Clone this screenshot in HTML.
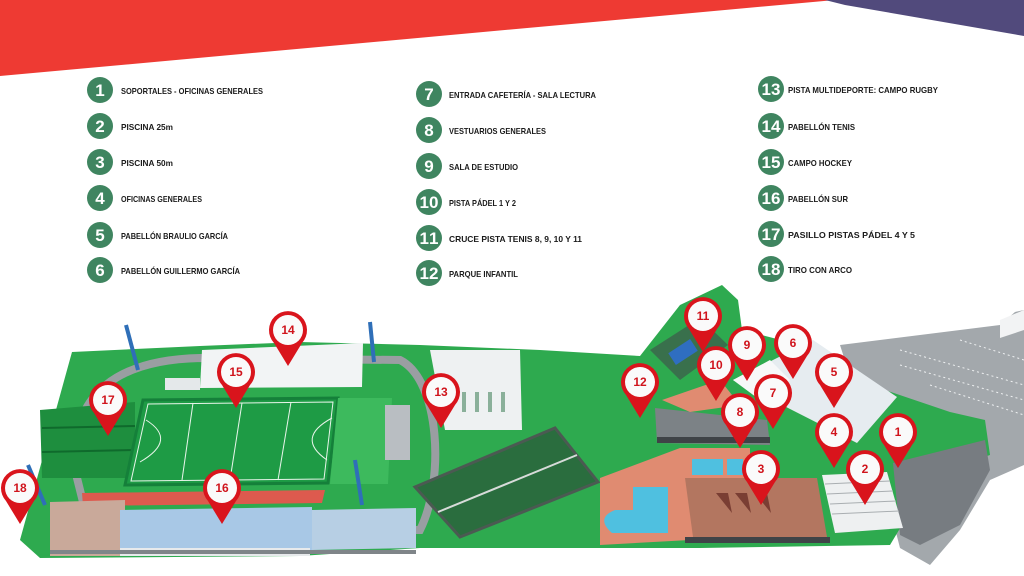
<!DOCTYPE html>
<html><head><meta charset="utf-8"><style>
html,body{margin:0;padding:0;background:#fff;width:1024px;height:576px;overflow:hidden}
svg{display:block}
.lg{font-family:"Liberation Sans",sans-serif;font-weight:bold;font-size:8.5px;fill:#1a1a1a}
.cn{font-family:"Liberation Sans",sans-serif;font-weight:bold;font-size:17px;fill:#fff;text-anchor:middle}
.pn{font-family:"Liberation Sans",sans-serif;font-weight:bold;font-size:12px;fill:#d0141c;text-anchor:middle}
</style></head><body>
<svg width="1024" height="576" viewBox="0 0 1024 576" xmlns="http://www.w3.org/2000/svg">
<defs>
<g id="pin"><path d="M0,36 L-14,13 A19,19 0 1 1 14,13 Z" fill="#d9141c"/><circle r="15" fill="#fafafa"/></g>
</defs>
<polygon points="0,0 835,0 0,76" fill="#ee3a33"/>
<polygon points="825,0 1024,0 1024,36 845,5" fill="#514a7c"/>

<g fill="#3f8560">
<circle cx="100" cy="90" r="13"/><circle cx="100" cy="126" r="13"/><circle cx="100" cy="162" r="13"/><circle cx="100" cy="198" r="13"/><circle cx="100" cy="235" r="13"/><circle cx="100" cy="270" r="13"/>
<circle cx="429" cy="94" r="13"/><circle cx="429" cy="130" r="13"/><circle cx="429" cy="166" r="13"/><circle cx="429" cy="202" r="13"/><circle cx="429" cy="238" r="13"/><circle cx="429" cy="273" r="13"/>
<circle cx="771" cy="89" r="13"/><circle cx="771" cy="126" r="13"/><circle cx="771" cy="162" r="13"/><circle cx="771" cy="198" r="13"/><circle cx="771" cy="234" r="13"/><circle cx="771" cy="269" r="13"/>
</g>
<g class="cn">
<text x="100" y="96">1</text><text x="100" y="132">2</text><text x="100" y="168">3</text><text x="100" y="204">4</text><text x="100" y="241">5</text><text x="100" y="276">6</text>
<text x="429" y="100">7</text><text x="429" y="136">8</text><text x="429" y="172">9</text><text x="429" y="208" textLength="19">10</text><text x="429" y="244" textLength="19">11</text><text x="429" y="279" textLength="19">12</text>
<text x="771" y="95" textLength="19">13</text><text x="771" y="132" textLength="19">14</text><text x="771" y="168" textLength="19">15</text><text x="771" y="204" textLength="19">16</text><text x="771" y="240" textLength="19">17</text><text x="771" y="275" textLength="19">18</text>
</g>
<g class="lg">
<text x="121" y="94" textLength="142" lengthAdjust="spacingAndGlyphs">SOPORTALES - OFICINAS GENERALES</text>
<text x="121" y="130" textLength="52" lengthAdjust="spacingAndGlyphs">PISCINA 25m</text>
<text x="121" y="166" textLength="52" lengthAdjust="spacingAndGlyphs">PISCINA 50m</text>
<text x="121" y="202" textLength="81" lengthAdjust="spacingAndGlyphs">OFICINAS GENERALES</text>
<text x="121" y="239" textLength="107" lengthAdjust="spacingAndGlyphs">PABELLÓN BRAULIO GARCÍA</text>
<text x="121" y="274" textLength="119" lengthAdjust="spacingAndGlyphs">PABELLÓN GUILLERMO GARCÍA</text>
<text x="449" y="98" textLength="147" lengthAdjust="spacingAndGlyphs">ENTRADA CAFETERÍA - SALA LECTURA</text>
<text x="449" y="134" textLength="97" lengthAdjust="spacingAndGlyphs">VESTUARIOS GENERALES</text>
<text x="449" y="170" textLength="69" lengthAdjust="spacingAndGlyphs">SALA DE ESTUDIO</text>
<text x="449" y="206" textLength="67" lengthAdjust="spacingAndGlyphs">PISTA PÁDEL 1 Y 2</text>
<text x="449" y="242" textLength="133" lengthAdjust="spacingAndGlyphs">CRUCE PISTA TENIS 8, 9, 10 Y 11</text>
<text x="449" y="277" textLength="69" lengthAdjust="spacingAndGlyphs">PARQUE INFANTIL</text>
<text x="788" y="93" textLength="150" lengthAdjust="spacingAndGlyphs">PISTA MULTIDEPORTE: CAMPO RUGBY</text>
<text x="788" y="130" textLength="67" lengthAdjust="spacingAndGlyphs">PABELLÓN TENIS</text>
<text x="788" y="166" textLength="64" lengthAdjust="spacingAndGlyphs">CAMPO HOCKEY</text>
<text x="788" y="202" textLength="60" lengthAdjust="spacingAndGlyphs">PABELLÓN SUR</text>
<text x="788" y="238" textLength="127" lengthAdjust="spacingAndGlyphs">PASILLO PISTAS PÁDEL 4 Y 5</text>
<text x="788" y="273" textLength="64" lengthAdjust="spacingAndGlyphs">TIRO CON ARCO</text>
</g>

<!-- parking -->
<polygon points="840,345 1000,325 1015,312 1024,310 1024,465 990,480 960,530 930,565 900,548 880,470" fill="#a3a8ac"/>
<g stroke="#eef0f1" stroke-width="1" stroke-dasharray="2 3">
<line x1="900" y1="350" x2="1024" y2="385"/><line x1="900" y1="365" x2="1024" y2="400"/><line x1="930" y1="385" x2="1024" y2="415"/><line x1="960" y1="340" x2="1024" y2="360"/>
</g>
<polygon points="1000,320 1024,310 1024,330 1000,338" fill="#f2f3f4"/>
<!-- ground -->
<polygon points="20,540 72,352 200,346 300,342 420,345 540,350 640,356 680,305 722,285 738,300 742,330 800,345 870,385 950,412 985,420 990,455 945,470 905,520 890,545 700,548 420,548 300,556 40,558" fill="#2eaa4f"/>
<polygon points="893,463 985,440 990,470 960,525 920,545 900,535" fill="#777c81"/>
<path d="M75,470 C70,400 110,360 200,358 L400,360 C440,380 445,480 420,530 L90,530 Z" fill="none" stroke="#9a9ea2" stroke-width="8"/>
<polygon points="40,410 135,402 135,478 42,478" fill="#1e8e3e"/>
<line x1="42" y1="428" x2="135" y2="426" stroke="#0f6a2c" stroke-width="2"/><line x1="42" y1="452" x2="135" y2="450" stroke="#0f6a2c" stroke-width="2"/>
<polygon points="143,400 338,398 328,483 125,485" fill="#1e9b45" stroke="#15803a" stroke-width="3"/>
<g stroke="#e8f5ea" stroke-width="1" fill="none">
<polygon points="148,404 333,402 324,479 131,481"/><line x1="193" y1="403" x2="182" y2="480"/><line x1="242" y1="403" x2="230" y2="480"/><line x1="291" y1="402" x2="278" y2="480"/>
<path d="M146,420 Q178,440 140,462"/><path d="M332,418 Q295,438 327,460"/></g>
<polygon points="338,398 392,398 388,484 330,484" fill="#3dba5d"/>
<rect x="385" y="405" width="25" height="55" fill="#b9bec2"/>
<polygon points="202,350 363,343 362,387 200,388" fill="#f2f4f5"/>
<rect x="165" y="378" width="35" height="12" fill="#e4e8ea"/>
<g stroke="#2f6fb8" stroke-width="4"><line x1="126" y1="325" x2="138" y2="370"/><line x1="370" y1="322" x2="374" y2="362"/><line x1="355" y1="460" x2="362" y2="505"/><line x1="28" y1="465" x2="45" y2="505"/></g>
<polygon points="82,493 325,490 322,503 83,506" fill="#dd5a4e"/>
<polygon points="50,502 125,500 125,556 50,556" fill="#c9a99a"/>
<polygon points="120,510 312,507 312,552 120,556" fill="#a8c8e6"/>
<polygon points="312,510 416,508 416,548 312,550" fill="#b7cfe4"/>
<rect x="120" y="548" width="190" height="8" fill="#e7eaec"/>
<rect x="50" y="550" width="366" height="4" fill="#7f8589"/>
<polygon points="430,350 520,350 522,430 445,430" fill="#eef1f2"/>
<g fill="#8ab09a"><rect x="462" y="392" width="4" height="20"/><rect x="475" y="392" width="4" height="20"/><rect x="488" y="392" width="4" height="20"/><rect x="501" y="392" width="4" height="20"/></g>
<polygon points="415,487 555,428 598,482 460,537" fill="#2a6d3e" stroke="#4b5a52" stroke-width="3"/>
<line x1="438" y1="512" x2="577" y2="455" stroke="#d7dbd9" stroke-width="2"/>
<polygon points="650,350 700,318 728,345 680,380" fill="#39704c"/>
<rect x="670" y="345" width="26" height="14" fill="#2f6ec0" transform="rotate(-33 683 352)"/>
<polygon points="600,478 680,448 750,448 750,478 690,540 600,545" fill="#e08b71"/>
<rect x="692" y="459" width="31" height="16" fill="#4fc0e0"/><rect x="727" y="459" width="16" height="16" fill="#4fc0e0"/>
<path d="M633,487 L668,487 L668,533 L612,533 Q595,518 615,510 L633,510 Z" fill="#4fc0e0"/>
<polygon points="685,478 817,478 827,537 693,537" fill="#b37660"/>
<rect x="685" y="537" width="145" height="6" fill="#3f4347"/>
<g fill="#7a3e33"><polygon points="716,493 728,493 732,513"/><polygon points="735,493 747,493 751,513"/><polygon points="755,493 767,493 771,513"/></g>
<polygon points="822,475 887,472 903,528 835,533" fill="#eef0f1"/>
<g stroke="#a9aeb1" stroke-width="1"><line x1="825" y1="484" x2="890" y2="481"/><line x1="827" y1="494" x2="893" y2="491"/><line x1="830" y1="504" x2="896" y2="501"/><line x1="832" y1="514" x2="899" y2="511"/></g>
<polygon points="733,380 813,340 897,397 857,443" fill="#e6ecf0"/>
<polygon points="733,380 770,360 790,380 760,400" fill="#f7f8f9"/>
<polygon points="655,408 767,420 770,445 657,443" fill="#7c8286"/>
<rect x="657" y="437" width="113" height="6" fill="#3f4347"/>
<polygon points="662,400 720,380 740,405 690,412" fill="#e08b71"/>
<!-- pins -->
<use href="#pin" x="288" y="330"/><use href="#pin" x="236" y="372"/><use href="#pin" x="108" y="400"/><use href="#pin" x="20" y="488"/><use href="#pin" x="222" y="488"/><use href="#pin" x="441" y="392"/>
<use href="#pin" x="703" y="316"/><use href="#pin" x="716" y="365"/><use href="#pin" x="747" y="345"/><use href="#pin" x="793" y="343"/><use href="#pin" x="640" y="382"/><use href="#pin" x="740" y="412"/><use href="#pin" x="773" y="393"/><use href="#pin" x="834" y="372"/><use href="#pin" x="834" y="432"/><use href="#pin" x="898" y="432"/><use href="#pin" x="865" y="469"/><use href="#pin" x="761" y="469"/>
<g class="pn">
<text x="288" y="334">14</text><text x="236" y="376">15</text><text x="108" y="404">17</text><text x="20" y="492">18</text><text x="222" y="492">16</text><text x="441" y="396">13</text>
<text x="703" y="320">11</text><text x="716" y="369">10</text><text x="747" y="349">9</text><text x="793" y="347">6</text><text x="640" y="386">12</text><text x="740" y="416">8</text><text x="773" y="397">7</text><text x="834" y="376">5</text><text x="834" y="436">4</text><text x="898" y="436">1</text><text x="865" y="473">2</text><text x="761" y="473">3</text>
</g>
</svg>
</body></html>
